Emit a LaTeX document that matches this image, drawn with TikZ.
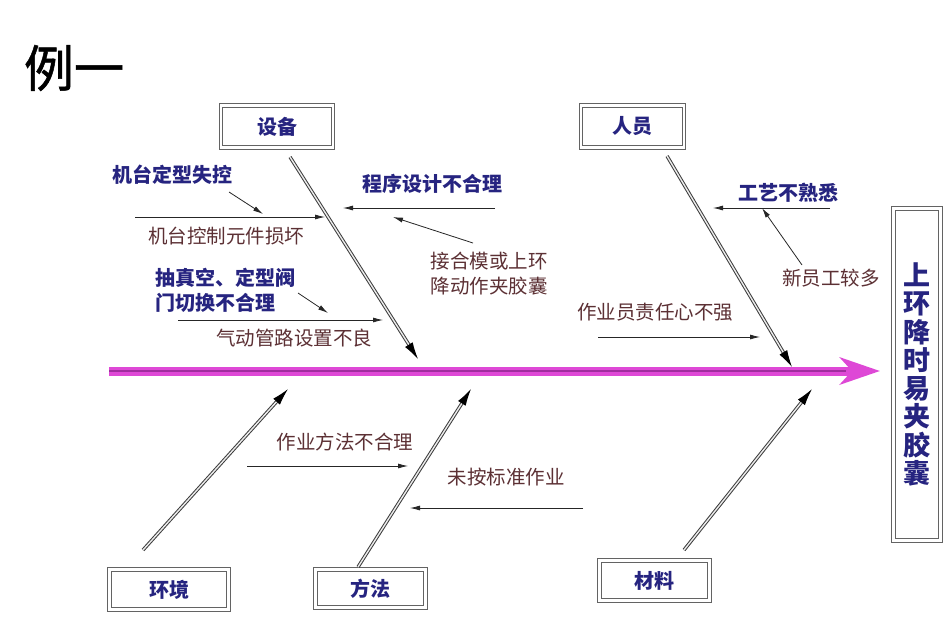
\documentclass[tikz,border=0pt]{standalone}
\usepackage{fontspec}
\setmainfont{Noto Sans CJK SC}
\newfontfamily\titlefont[FakeBold=1]{Noto Sans CJK SC}
\usetikzlibrary{arrows.meta,positioning,calc}
\usepackage{xcolor}

\definecolor{causeblue}{RGB}{38,36,128}
\definecolor{causered}{RGB}{92,48,52}
\definecolor{spinepink}{RGB}{222,72,214}
\definecolor{spinehead}{RGB}{236,40,230}
\definecolor{spinedark}{RGB}{160,45,158}
\definecolor{bonegray}{RGB}{60,60,60}

\begin{document}
\begin{tikzpicture}[
  x=1pt, y=-1pt,
  cat/.style={draw=bonegray!80, double=white, double distance=2.4pt, line width=1.1pt,
    text=causeblue, font=\fontsize{20}{22}\selectfont\bfseries, inner sep=0pt},
  major/.style={text=causeblue, font=\fontsize{20}{25}\selectfont\bfseries, align=left, inner sep=0pt},
  minor/.style={text=causered, font=\fontsize{19.5}{25}\selectfont, align=left, inner sep=0pt},
  bone/.style={draw=bonegray, double=white!85!gray, double distance=1.4pt, line width=1pt,
    -{Latex[length=17pt,width=9pt,black,fill=black]}},
  arrow/.style={-{Latex[length=10pt,width=5pt]}, line width=0.8pt, draw=black!85},
  spine/.style={draw=spinepink, line width=9pt, -{Stealth[length=40pt,width=27pt,inset=12pt,fill=spinehead]}}
]

\fill[white] (0,0) rectangle (952,633);
\useasboundingbox (0,0) rectangle (952,633);

% title
\node[font=\fontsize{50}{50}\titlefont, inner sep=0pt] (title) at (74,68) {例一};

% category boxes
\node[cat, minimum width=112pt, minimum height=42pt] (equip) at (277,126.5) {设备};
\node[cat, minimum width=103pt, minimum height=42pt] (staff) at (632.5,126.5) {人员};
\node[cat, minimum width=119pt, minimum height=40pt] (envir) at (169,589.5) {环境};
\node[cat, minimum width=110pt, minimum height=38pt] (method) at (370.5,588.5) {方法};
\node[cat, minimum width=110pt, minimum height=40pt] (matl) at (654.5,580.5) {材料};
\node[cat, minimum width=47pt, minimum height=332pt, align=center,
  font=\fontsize{27}{28.3}\selectfont\bfseries] (effect) at (917,374.5) {上\\环\\降\\时\\易\\夹\\胶\\囊};

% spine
\coordinate (spTail) at (109,371);
\coordinate (spCore) at (846,371);
\coordinate (spTip) at (880,371);
\draw[spine] (spTail) -- (spTip);
\draw[spinedark, line width=1.6pt] (spTail) -- (spCore);

% bones
\coordinate (equipEnd) at (418,359);
\coordinate (staffEnd) at (792,367);
\coordinate (envirEnd) at (288,389);
\coordinate (methodEnd) at (471,389);
\coordinate (matlEnd) at (812,389);
\coordinate (equipStart) at (290,157);
\coordinate (staffStart) at (667,156);
\coordinate (envirStart) at (143,550);
\coordinate (methodStart) at (358,567);
\coordinate (matlStart) at (684,550);
\draw[bone] (equipStart) -- (equipEnd);
\draw[bone] (staffStart) -- (staffEnd);
\draw[bone] (envirStart) -- (envirEnd);
\draw[bone] (methodStart) -- (methodEnd);
\draw[bone] (matlStart) -- (matlEnd);

% causes
\node[major] (ctrlLoss) at (172,175) {机台定型失控};
\node[minor] (ctrlPart) at (226,236) {机台控制元件损坏};
\node[major] (progBad) at (432,184) {程序设计不合理};
\node[minor] (capsule) at (489,274) {接合模或上环\\降动作夹胶囊};
\node[major] (valveBad) at (225,290) {抽真空、定型阀\\门切换不合理};
\node[minor] (pipeBad) at (294,338) {气动管路设置不良};
\node[major] (craft) at (788,193) {工艺不熟悉};
\node[minor] (newbie) at (831,278) {新员工较多};
\node[minor] (duty) at (655,312) {作业员责任心不强};
\node[minor] (wayBad) at (345,442) {作业方法不合理};
\node[minor] (noStd) at (506,477) {未按标准作业};

% cause arrows
\coordinate (ctrlLossA) at (229,192);  \coordinate (ctrlLossB) at (263,214);
\coordinate (ctrlPartA) at (135,217);  \coordinate (ctrlPartB) at (325,217);
\coordinate (progBadA) at (495,208);   \coordinate (progBadB) at (343,208);
\coordinate (capsuleA) at (473,243);   \coordinate (capsuleB) at (393,217);
\coordinate (valveBadA) at (298,293);  \coordinate (valveBadB) at (328,313);
\coordinate (pipeBadA) at (178,320);   \coordinate (pipeBadB) at (383,320);
\coordinate (craftA) at (830,208);     \coordinate (craftB) at (713,208);
\coordinate (newbieA) at (802,265);    \coordinate (newbieB) at (762,208);
\coordinate (dutyA) at (598,337);      \coordinate (dutyB) at (760,337);
\coordinate (wayBadA) at (247,466);    \coordinate (wayBadB) at (408,466);
\coordinate (noStdA) at (583,508);     \coordinate (noStdB) at (410,508);

\draw[arrow] (ctrlLossA) -- (ctrlLossB);
\draw[arrow] (ctrlPartA) -- (ctrlPartB);
\draw[arrow] (progBadA) -- (progBadB);
\draw[arrow] (capsuleA) -- (capsuleB);
\draw[arrow] (valveBadA) -- (valveBadB);
\draw[arrow] (pipeBadA) -- (pipeBadB);
\draw[arrow] (craftA) -- (craftB);
\draw[arrow] (newbieA) -- (newbieB);
\draw[arrow] (dutyA) -- (dutyB);
\draw[arrow] (wayBadA) -- (wayBadB);
\draw[arrow] (noStdA) -- (noStdB);

\end{tikzpicture}
\end{document}
